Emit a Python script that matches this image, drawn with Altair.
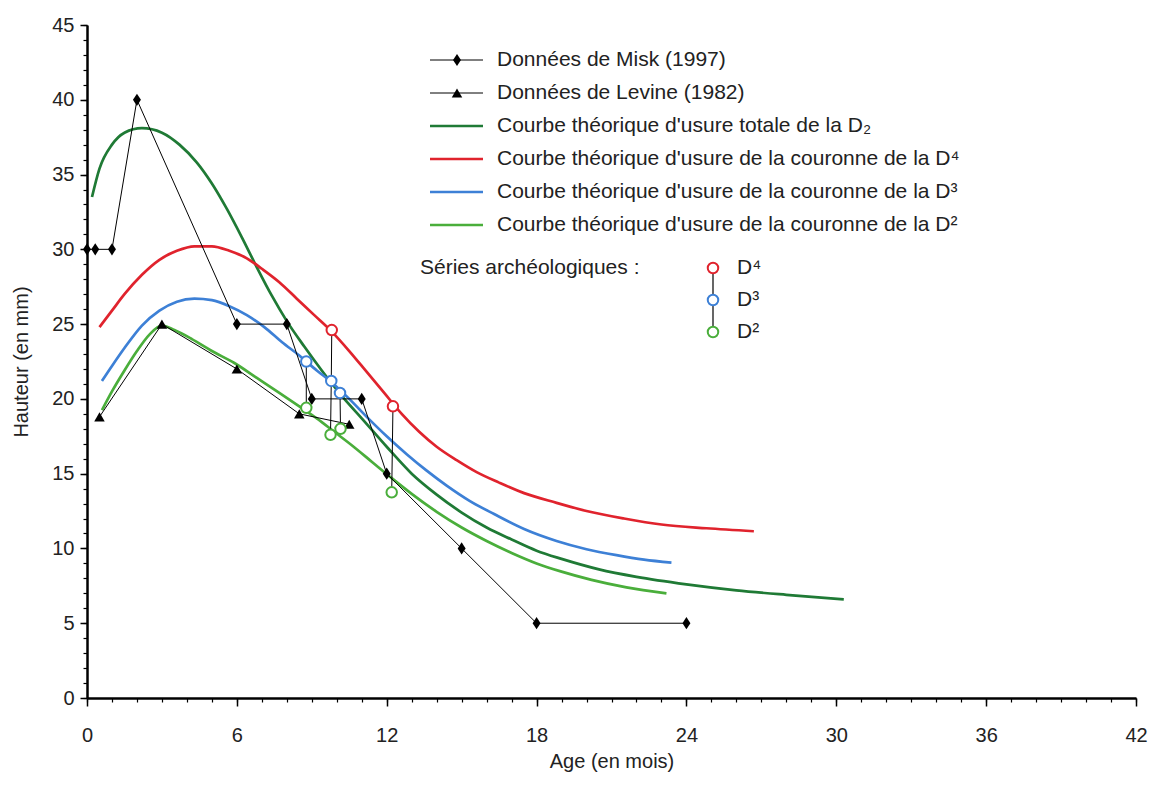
import altair as alt
import pandas as pd

# ---------------- data ----------------
misk_x = [0, 0.33, 1, 2, 6, 8, 9, 11, 12, 15, 18, 24]
misk_y = [30, 30, 30, 40, 25, 25, 20, 20, 15, 10, 5, 5]

levine_x = [0.5, 3, 6, 8.5, 10.5]
levine_y = [18.8, 25, 22, 19, 18.3]

tot_x = [0.2, 0.5, 1.0, 1.5, 2.2, 3.0, 3.7, 4.4, 5.0, 5.6, 6.2, 6.8, 7.4, 8.0, 8.7, 9.4, 10.2,
         11.0, 12.0, 13.0, 14.0, 15.0, 16.0, 17.0, 18.0, 19.0, 20.5, 22.0, 24.0, 26.0, 28.0, 30.3]
tot_y = [33.5, 35.4, 37.0, 37.8, 38.1, 37.8, 37.0, 35.8, 34.4, 32.7, 30.8, 28.8, 26.9, 25.2, 23.5, 21.9, 20.2,
         18.7, 16.8, 15.0, 13.6, 12.4, 11.4, 10.6, 9.85, 9.3, 8.6, 8.1, 7.6, 7.2, 6.9, 6.6]

d4_x = [0.5, 1.0, 1.5, 2.2, 2.9, 3.6, 4.3, 5.0, 5.7, 6.4, 7.0, 7.7, 8.4, 9.1, 9.8, 10.5, 11.2,
        11.9, 12.6, 13.3, 14.0, 14.8, 15.6, 16.5, 17.5, 18.8, 20.0, 21.5, 23.0, 24.8, 26.7]
d4_y = [24.8, 25.9, 27.0, 28.3, 29.3, 29.9, 30.2, 30.2, 29.9, 29.4, 28.7, 27.8, 26.7, 25.6, 24.5, 23.2, 21.8,
        20.4, 19.0, 17.8, 16.8, 15.9, 15.1, 14.4, 13.7, 13.05, 12.5, 12.0, 11.6, 11.35, 11.15]

d3_x = [0.6, 1.0, 1.5, 2.2, 2.9, 3.6, 4.3, 5.0, 5.7, 6.4, 7.1, 7.8, 8.5, 9.2, 9.8, 10.5, 11.2,
        12.0, 12.8, 13.6, 14.4, 15.3, 16.3, 17.5, 18.8, 20.0, 21.2, 22.3, 23.4]
d3_y = [21.2, 22.2, 23.4, 24.9, 25.9, 26.5, 26.7, 26.6, 26.2, 25.6, 24.8, 23.8, 22.9, 21.9, 21.1, 20.0, 18.8,
        17.5, 16.3, 15.2, 14.2, 13.2, 12.3, 11.3, 10.5, 9.95, 9.55, 9.25, 9.05]

d2_x = [0.6, 1.0, 1.5, 2.0, 2.5, 3.0, 3.5, 4.2, 5.0, 5.9, 6.8, 7.7, 8.5, 9.2, 9.9, 10.6, 11.4,
        12.2, 13.0, 14.0, 15.0, 16.0, 17.0, 18.0, 19.0, 20.2, 21.6, 23.2]
d2_y = [19.25, 20.5, 21.9, 23.2, 24.3, 24.9, 24.6, 24.0, 23.2, 22.4, 21.4, 20.4, 19.5, 18.7, 17.8, 16.9, 15.8,
        14.7, 13.65, 12.45, 11.4, 10.5, 9.7, 9.0, 8.45, 7.9, 7.4, 7.0]

arch_series = ["S1", "S1", "S2", "S2", "S2", "S3", "S3", "S4", "S4"]
arch_tooth = ["D3", "D2", "D4", "D3", "D2", "D3", "D2", "D4", "D2"]
arch_x = [8.78, 8.78, 9.8, 9.78, 9.75, 10.13, 10.15, 12.25, 12.2]
arch_y = [22.5, 19.4, 24.6, 21.2, 17.6, 20.4, 18.0, 19.5, 13.75]

curve_names = ["totale", "D4", "D3", "D2"]
curve_colors = ["#1f7a35", "#e0232d", "#3d80d6", "#4aae3b"]
tooth_names = ["D4", "D3", "D2"]
tooth_colors = ["#e0232d", "#3d80d6", "#4aae3b"]
tooth_labels = ["D⁴", "D³", "D²"]

legend_labels = [
    "Données de Misk (1997)",
    "Données de Levine (1982)",
    "Courbe théorique d'usure totale de la D₂",
    "Courbe théorique d'usure de la couronne de la D⁴",
    "Courbe théorique d'usure de la couronne de la D³",
    "Courbe théorique d'usure de la couronne de la D²",
]
legend_colors = ["black", "black"] + curve_colors
series_title = "Séries archéologiques :"

x_major = list(range(0, 43, 6))
x_minor = list(range(0, 43, 1))
y_major = list(range(0, 46, 5))
y_minor = list(range(0, 46, 1))

# ---------------- tables ----------------
rows = []
for name, xs_, ys_ in zip(curve_names, [tot_x, d4_x, d3_x, d2_x], [tot_y, d4_y, d3_y, d2_y]):
    for i, (a, b) in enumerate(zip(xs_, ys_)):
        rows.append({"curve": name, "x": a, "y": b, "i": i})
curve_df = pd.DataFrame(rows)
misk_df = pd.DataFrame({"x": misk_x, "y": misk_y})
lev_df = pd.DataFrame({"x": levine_x, "y": levine_y})
arch_df = pd.DataFrame({"s": arch_series, "tooth": arch_tooth, "x": arch_x, "y": arch_y})

FONT = "Liberation Sans"
DIAMOND = "M0,-1L0.65,0L0,1L-0.65,0Z"
xs = alt.Scale(domain=[0, 42], nice=False, zero=False)
ys = alt.Scale(domain=[0, 45], nice=False, zero=False)


def X(axis=None):
    return alt.X("x:Q", scale=xs, axis=axis)


def Y(axis=None):
    return alt.Y("y:Q", scale=ys, axis=axis)


axis_common = dict(domainColor="black", tickColor="black", grid=False, labelFlush=False,
                   labelFont=FONT, titleFont=FONT, labelColor="#222", titleColor="#222",
                   titleFontWeight="normal")

x_major_axis = alt.Axis(values=x_major, title="Age (en mois)", orient="bottom", domainWidth=2.5,
                        tickWidth=1.5, tickSize=8, labelFontSize=20, labelPadding=19,
                        titleFontSize=20, titlePadding=6, format="d", **axis_common)
x_minor_axis = alt.Axis(values=x_minor, title=None, orient="bottom", labels=False, domain=False,
                        tickWidth=1.2, tickSize=4, grid=False, tickColor="black")
y_major_axis = alt.Axis(values=y_major, title="Hauteur (en mm)", orient="left", domainWidth=2.5,
                        tickWidth=1.5, tickSize=7, labelFontSize=20, labelPadding=6,
                        titleFontSize=20, titlePadding=20, format="d", **axis_common)
y_minor_axis = alt.Axis(values=y_minor, title=None, orient="left", labels=False, domain=False,
                        tickWidth=1.2, tickSize=4, grid=False, tickColor="black")

axes_major = alt.Chart(misk_df).mark_point(opacity=0).encode(x=X(x_major_axis), y=Y(y_major_axis))
axes_minor = alt.Chart(misk_df).mark_point(opacity=0).encode(x=X(x_minor_axis), y=Y(y_minor_axis))

curves = alt.Chart(curve_df).mark_line(strokeWidth=2.7, interpolate="monotone").encode(
    x=X(), y=Y(),
    color=alt.Color("curve:N", scale=alt.Scale(domain=curve_names, range=curve_colors), legend=None),
    order="i:Q",
)

misk_line = alt.Chart(misk_df).mark_line(color="black", strokeWidth=1).encode(x=X(), y=Y())
misk_pts = alt.Chart(misk_df).mark_point(shape=DIAMOND, filled=True, color="black", size=150,
                                         opacity=1).encode(x=X(), y=Y())
lev_line = alt.Chart(lev_df).mark_line(color="black", strokeWidth=1).encode(x=X(), y=Y())
lev_pts = alt.Chart(lev_df).mark_point(shape="triangle-up", filled=True, color="black", size=110,
                                       opacity=1).encode(x=X(), y=Y())

arch_lines = alt.Chart(arch_df).mark_line(color="black", strokeWidth=1).encode(
    x=X(), y=Y(), detail="s:N", order="y:Q")
arch_pts = alt.Chart(arch_df).mark_point(shape="circle", filled=True, fill="white", strokeWidth=2,
                                         size=110, opacity=1).encode(
    x=X(), y=Y(),
    stroke=alt.Stroke("tooth:N", scale=alt.Scale(domain=tooth_names, range=tooth_colors), legend=None),
)

# ---------------- hand-made legend ----------------
one = pd.DataFrame({"k": [0]})
leg_layers = []
row_top, row_step = 35, 33
line_x0, line_x1, mark_xc, text_x = 343, 396, 370, 410
for i, (lab, col) in enumerate(zip(legend_labels, legend_colors)):
    yy = row_top + row_step * i
    sw = 1 if i < 2 else 2.7
    leg_layers.append(alt.Chart(one).mark_rule(color=col, strokeWidth=sw).encode(
        x=alt.value(line_x0), x2=alt.value(line_x1), y=alt.value(yy)))
    leg_layers.append(alt.Chart(one).mark_text(align="left", baseline="middle", font=FONT,
                                               fontSize=21, color="#222").encode(
        x=alt.value(text_x), y=alt.value(yy), text=alt.value(lab)))
    if i == 0:
        leg_layers.append(alt.Chart(one).mark_point(shape=DIAMOND, filled=True, color="black",
                                                    size=150, opacity=1).encode(
            x=alt.value(mark_xc), y=alt.value(yy)))
    if i == 1:
        leg_layers.append(alt.Chart(one).mark_point(shape="triangle-up", filled=True, color="black",
                                                    size=110, opacity=1).encode(
            x=alt.value(mark_xc), y=alt.value(yy)))

sy0, sstep = 243, 32
circ_x, circ_text_x = 626, 650
leg_layers.append(alt.Chart(one).mark_text(align="left", baseline="middle", font=FONT, fontSize=21,
                                           color="#222").encode(
    x=alt.value(333), y=alt.value(sy0), text=alt.value(series_title)))
leg_layers.append(alt.Chart(one).mark_rule(color="black", strokeWidth=1.2).encode(
    x=alt.value(circ_x), y=alt.value(sy0), y2=alt.value(sy0 + 2 * sstep)))
for j, (tl, tc) in enumerate(zip(tooth_labels, tooth_colors)):
    yy = sy0 + sstep * j
    leg_layers.append(alt.Chart(one).mark_point(shape="circle", filled=True, fill="white", stroke=tc,
                                                strokeWidth=2, size=110, opacity=1).encode(
        x=alt.value(circ_x), y=alt.value(yy)))
    leg_layers.append(alt.Chart(one).mark_text(align="left", baseline="middle", font=FONT,
                                               fontSize=21, color="#222").encode(
        x=alt.value(circ_text_x), y=alt.value(yy), text=alt.value(tl)))

chart = alt.layer(
    axes_minor, axes_major, curves, misk_line, lev_line, arch_lines, misk_pts, lev_pts, arch_pts,
    *leg_layers,
).resolve_axis(x="independent", y="independent").properties(
    width=1049, height=673,
    padding={"left": 79, "top": 17, "right": 14, "bottom": 80},
    autosize="none",
    background="white",
).configure_view(stroke=None)

chart.save("out.html", embed_options={"renderer": "svg", "actions": False})
